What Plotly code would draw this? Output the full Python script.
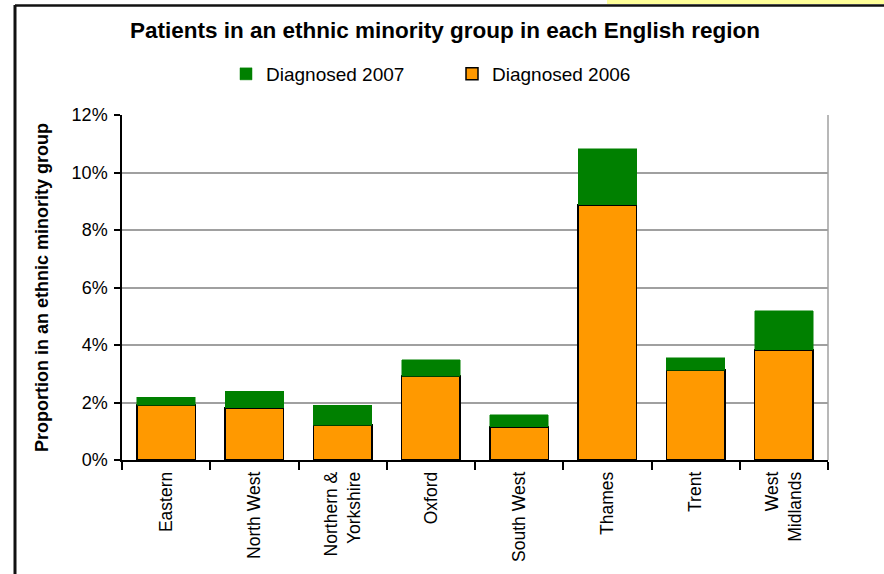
import plotly.graph_objects as go

# Regions and the share of patients in an ethnic minority group (%)
regions = ["Eastern", "North West", "Northern &<br>Yorkshire", "Oxford",
           "South West", "Thames", "Trent", "West<br>Midlands"]
diagnosed_2006 = [1.91, 1.81, 1.21, 2.92, 1.15, 8.87, 3.13, 3.83]
# Additional share when 2007 diagnoses are included (stacked on top)
diagnosed_2007 = [0.28, 0.59, 0.70, 0.56, 0.42, 1.95, 0.42, 1.36]

y_ticks = [0, 2, 4, 6, 8, 10, 12]
y_tick_labels = [f"{v}%" for v in y_ticks]

FONT = "Liberation Sans, Arial, sans-serif"
W, H = 884, 574
L, R, T, B = 122, 56, 115, 114
PW, PH = W - L - R, H - T - B


def px_x(x):
    return (x - L) / PW


def px_y(y):
    return (H - B - y) / PH


fig = go.Figure()
fig.add_trace(go.Bar(
    x=regions, y=diagnosed_2006, name="Diagnosed 2006",
    marker=dict(color="#FF9900", line=dict(color="#000000", width=1.5)),
))
fig.add_trace(go.Bar(
    x=regions, y=diagnosed_2007, name="Diagnosed 2007",
    marker=dict(color="#008000", line=dict(color="#008000", width=0.5)),
))

shapes = [
    # right edge of the plot area
    dict(type="line", xref="paper", yref="paper", x0=1, x1=1, y0=0, y1=1,
         line=dict(color="#A0A0A0", width=1.5)),
    # yellow strip along the top-right edge
    dict(type="rect", xref="paper", yref="paper",
         x0=px_x(607), x1=px_x(890), y0=px_y(4), y1=px_y(-2),
         fillcolor="#FFFF99", line=dict(width=0), layer="below"),
    # frame: top and left borders
    dict(type="line", xref="paper", yref="paper",
         x0=px_x(15), x1=px_x(890), y0=px_y(5.5), y1=px_y(5.5),
         line=dict(color="#111111", width=2.5)),
    dict(type="line", xref="paper", yref="paper",
         x0=px_x(15), x1=px_x(15), y0=px_y(5), y1=px_y(580),
         line=dict(color="#111111", width=3)),
]

fig.update_layout(
    width=W, height=H,
    margin=dict(l=L, r=R, t=T, b=B),
    paper_bgcolor="white", plot_bgcolor="white",
    barmode="stack", bargap=0.336,
    font=dict(family=FONT, color="#000000", size=17),
    title=dict(text="<b>Patients in an ethnic minority group in each English region</b>",
               font=dict(family=FONT, size=22.5, color="#000000"),
               xref="container", x=445 / W, xanchor="center",
               yref="container", y=1 - 30 / H, yanchor="middle"),
    legend=dict(orientation="h", traceorder="reversed",
                x=px_x(226), xanchor="left", y=px_y(74), yanchor="middle",
                font=dict(family=FONT, size=19),
                entrywidth=181, entrywidthmode="pixels",
                bgcolor="rgba(0,0,0,0)"),
    xaxis=dict(showline=True, linecolor="#000000", linewidth=1.5,
               ticks="outside", tickson="boundaries", ticklen=8,
               tickcolor="#000000", tickwidth=1.5, tickangle=-90,
               ticklabelstandoff=3,
               showgrid=False, tickfont=dict(family=FONT, size=17.5)),
    yaxis=dict(range=[0, 12], tickmode="array", tickvals=y_ticks,
               ticktext=y_tick_labels,
               showline=True, linecolor="#000000", linewidth=1.5,
               ticks="outside", ticklen=6, tickcolor="#000000", tickwidth=1.5,
               ticklabelstandoff=3,
               showgrid=True, gridcolor="#A0A0A0", gridwidth=1.5,
               zeroline=False, tickfont=dict(family=FONT, size=18),
               title=dict(text="<b>Proportion in an ethnic minority group</b>",
                          font=dict(family=FONT, size=18), standoff=18)),
    shapes=shapes,
)

fig.write_html("out.html")
